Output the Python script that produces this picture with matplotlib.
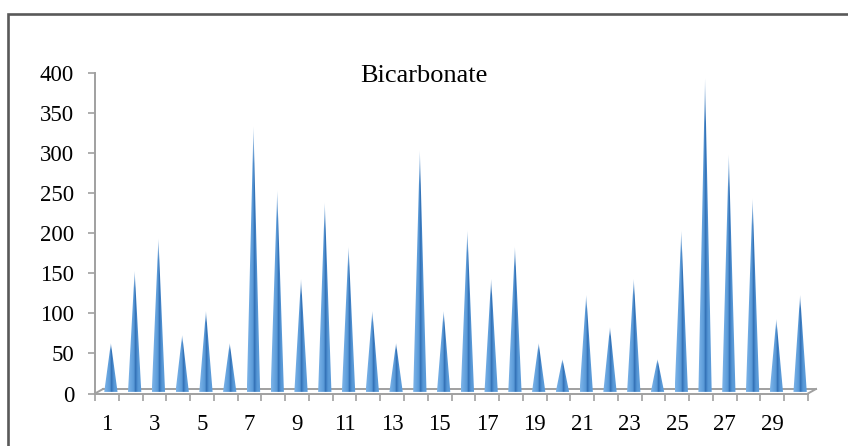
import numpy as np
import matplotlib.pyplot as plt
from matplotlib.patches import Polygon
from matplotlib.lines import Line2D
from matplotlib.colors import to_rgb

# Bicarbonate por amostra (1..30)
amostras = list(range(1, 31))
bicarbonato = [60, 150, 190, 70, 100, 60, 330, 250, 140, 235,
               180, 100, 60, 300, 100, 200, 140, 180, 60, 40,
               120, 80, 140, 40, 200, 390, 295, 240, 90, 120]
rotulos_x = [str(a) for a in amostras if a % 2 == 1]
ticks_y = list(range(0, 401, 50))

fonte = ["Liberation Serif", "DejaVu Serif"]
cinza_eixo = "#a0a0a0"

W, H = 848, 446
fig = plt.figure(figsize=(W / 100, H / 100), dpi=100)

# área do gráfico em pixels
x0, x1 = 95, 808
y0, y1 = 393.5, 72.7
ax = fig.add_axes([x0 / W, 1 - y0 / H, (x1 - x0) / W, (y0 - y1) / H])
ax.set_xlim(0.5, 30.5)
ax.set_ylim(0, 400)

# profundidade do "piso" 3D (em unidades de dados)
px_x = (x1 - x0) / 30.0
px_y = (y0 - y1) / 400.0
prof_x = 8 / px_x
prof_y = 4.5 / px_y

# gradiente horizontal do cone
paradas = [(0.0, "#7db4e8"), (0.25, "#68a5e0"), (0.45, "#5897d6"),
           (0.52, "#2f6cb0"), (0.60, "#3f7fc4"), (0.72, "#5898d6"), (1.0, "#5f9edc")]
n_col = 80
tt = np.linspace(0, 1, n_col)
cols = np.zeros((n_col, 3))
for k in range(3):
    cols[:, k] = np.interp(tt, [p[0] for p in paradas],
                           [to_rgb(p[1])[k] for p in paradas])
n_lin = 160
hh = np.linspace(0, 1, n_lin)
img = np.ones((n_lin, n_col, 4))
img[:, :, :3] = cols[None, :, :]
# clareia a ponta
clarear = np.clip((hh - 0.86) / 0.14, 0, 1)[:, None, None] * 0.6
img[:, :, :3] = img[:, :, :3] * (1 - clarear) + clarear

meia_base = 0.28
for a, v in zip(amostras, bicarbonato):
    cx = a + prof_x / 2
    by = prof_y / 2
    tri = Polygon([[cx - meia_base, by - 0.8], [cx, by + v], [cx + meia_base, by - 0.8]],
                  closed=True, facecolor="none", edgecolor="none")
    ax.add_patch(tri)
    im = ax.imshow(img, extent=[cx - meia_base, cx + meia_base, by - 0.8, by + v],
                   origin="lower", aspect="auto", interpolation="bilinear", zorder=3)
    im.set_clip_path(tri)

# piso: borda de trás e laterais
for xs, ys in [([0.5 + prof_x, 30.5 + prof_x], [prof_y, prof_y]),
               ([0.5, 0.5 + prof_x], [0, prof_y]),
               ([30.5, 30.5 + prof_x], [0, prof_y])]:
    ax.add_line(Line2D(xs, ys, color=cinza_eixo, lw=1.4, clip_on=False, zorder=2))

for s in ["top", "right"]:
    ax.spines[s].set_visible(False)
for s in ["left", "bottom"]:
    ax.spines[s].set_color(cinza_eixo)
    ax.spines[s].set_linewidth(1.4)
    ax.spines[s].set_zorder(4)

ax.set_xticks([a for a in amostras if a % 2 == 1])
ax.set_xticklabels(rotulos_x, family=fonte, fontsize=16.5)
ax.set_xticks(np.arange(0.5, 31, 1), minor=True)
ax.tick_params(axis="x", which="major", length=0, pad=15)
ax.tick_params(axis="x", which="minor", length=5, width=1.2, color=cinza_eixo)

ax.set_yticks(ticks_y)
ax.set_yticklabels([str(t) for t in ticks_y], family=fonte, fontsize=16.5)
ax.tick_params(axis="y", length=5, width=1.2, color=cinza_eixo, pad=10)

ax.patch.set_alpha(0)

fig.text(424 / W, 1 - 76 / H, "Bicarbonate", family=fonte, fontsize=19,
         ha="center", va="center")

# moldura externa
fig.add_artist(Line2D([7.5 / W, 7.5 / W, 1.0], [0.0, 1 - 14.3 / H, 1 - 14.3 / H],
                      transform=fig.transFigure, color="#595959", lw=1.9,
                      solid_joinstyle="miter"))

fig.savefig("out.png", dpi=100)
